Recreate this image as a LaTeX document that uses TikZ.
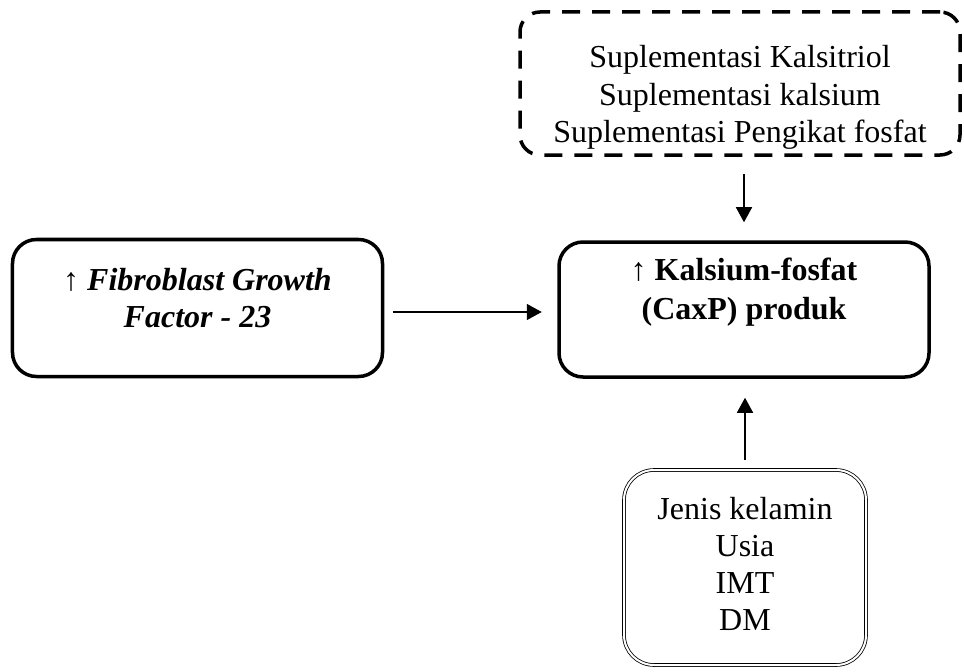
\documentclass[tikz,border=0pt]{standalone}
\usepackage{fontspec}
\setmainfont{Liberation Serif}
\usetikzlibrary{arrows.meta,positioning}

\begin{document}
\begin{tikzpicture}[x=1bp, y=-1bp, font=\fontsize{32bp}{38bp}\selectfont,
  box/.style={draw, line width=3.5bp, rounded corners=24bp, align=center, inner sep=0pt},
  flow/.style={line width=1.5bp, -{Triangle[length=15bp,width=16bp]}}]
\useasboundingbox (0,0) rectangle (964,672);
\node[box, dash pattern=on 18bp off 12bp, rounded corners=20bp, minimum width=440bp, minimum height=143bp,
  font=\fontsize{32bp}{37bp}\selectfont, text height=117bp, text depth=0bp] (supl) at (740,83.5)
  {Suplementasi Kalsitriol\\Suplementasi kalsium\\Suplementasi Pengikat fosfat};
\node[box, minimum width=370bp, minimum height=137bp, font=\fontsize{32bp}{37bp}\selectfont,
  text height=61bp, text depth=23bp] (fgf) at (197.5,308)
  {↑ \textbf{\textit{Fibroblast Growth}}\\\textbf{\textit{Factor - 23}}};
\node[box, minimum width=370bp, minimum height=135bp, font=\fontsize{32bp}{39bp}\selectfont,
  text height=62bp, text depth=43bp] (prod) at (744,309.5)
  {↑ \textbf{Kalsium-fosfat}\\\textbf{(CaxP) produk}};
\node[draw, double, line width=0.8bp, double distance=2bp, rounded corners=30bp, align=center, inner sep=0pt,
  minimum width=242bp, minimum height=195bp, font=\fontsize{32bp}{37bp}\selectfont,
  text height=133bp, text depth=8bp] (risk) at (745,567.5)
  {Jenis kelamin\\Usia\\IMT\\DM};
\draw[flow, shorten <=17bp, shorten >=18bp] (prod.north |- supl.south) -- (prod.north);
\draw[flow, shorten <=8.5bp, shorten >=15.5bp] ([yshift=-4bp]fgf.east) -- ([yshift=-4bp]fgf.east -| prod.west);
\draw[flow, shorten <=10bp, shorten >=19bp] (risk.north) -- (risk.north |- prod.south);
\end{tikzpicture}
\end{document}
